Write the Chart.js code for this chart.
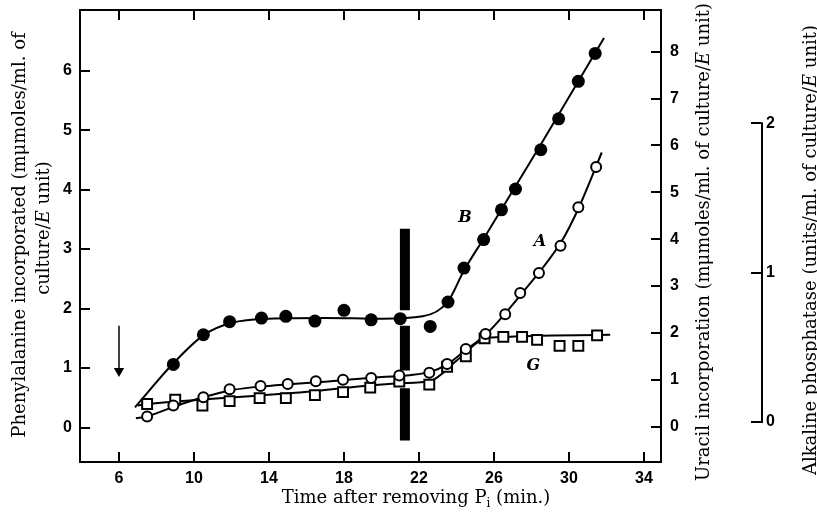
<!DOCTYPE html>
<html>
<head>
<meta charset="utf-8">
<title>Phenylalanine and uracil incorporation, alkaline phosphatase</title>
<script src="https://cdn.jsdelivr.net/npm/chart.js@4.4.0/dist/chart.umd.min.js"></script>
<style>
  html, body { margin: 0; padding: 0; background: #fff; }
  #wrap { width: 817px; height: 516px; }
</style>
</head>
<body>
<div id="wrap"><canvas id="chart" width="817" height="516"></canvas></div>
<script>
// --- data ---
// B: phenylalanine (filled circles, left axis)
const timeB   = [8.9, 10.5, 11.9, 13.6, 14.9, 16.45, 18.0, 19.45, 21.0, 22.6, 23.55, 24.4, 25.45, 26.4, 27.15, 28.5, 29.45, 30.5, 31.4];
const valuesB = [1.06, 1.56, 1.78, 1.84, 1.87, 1.79, 1.97, 1.81, 1.83, 1.70, 2.11, 2.68, 3.16, 3.66, 4.01, 4.67, 5.19, 5.82, 6.29];
// A: uracil (open circles, right axis)
const timeA   = [7.5, 8.9, 10.5, 11.9, 13.55, 15.0, 16.5, 17.95, 19.45, 20.95, 22.55, 23.5, 24.5, 25.55, 26.6, 27.4, 28.4, 29.55, 30.5, 31.45];
const valuesA = [0.22, 0.45, 0.63, 0.80, 0.87, 0.91, 0.97, 1.00, 1.04, 1.09, 1.15, 1.34, 1.66, 1.98, 2.40, 2.85, 3.28, 3.86, 4.68, 5.54];
// G: alkaline phosphatase (squares, outer right axis)
const timeG   = [7.5, 9.0, 10.45, 11.9, 13.5, 14.9, 16.45, 17.95, 19.4, 20.95, 22.55, 23.5, 24.5, 25.5, 26.5, 27.5, 28.3, 29.5, 30.5, 31.5];
const valuesG = [0.12, 0.15, 0.11, 0.14, 0.16, 0.16, 0.18, 0.20, 0.23, 0.27, 0.25, 0.37, 0.44, 0.56, 0.57, 0.57, 0.55, 0.51, 0.51, 0.58];

// hand-drawn fitted curves
const curveTimeB = [6.85, 8.9, 10.5, 12.0, 14.0, 17.0, 20.0, 22.2, 23.55, 24.4, 25.5, 28.5, 31.87];
const curveB     = [0.34, 1.08, 1.55, 1.76, 1.83, 1.84, 1.83, 1.87, 2.12, 2.64, 3.2, 4.76, 6.55];
const curveTimeA = [6.9, 7.5, 9.0, 10.5, 12.0, 14.0, 17.0, 20.0, 21.5, 22.6, 23.5, 24.5, 25.6, 27.5, 29.6, 30.5, 31.75];
const curveA     = [0.18, 0.22, 0.44, 0.63, 0.78, 0.87, 0.96, 1.06, 1.10, 1.17, 1.33, 1.64, 1.98, 2.85, 3.95, 4.65, 5.85];
const curveTimeG = [7.0, 7.5, 11.0, 15.65, 21.0, 22.6, 24.0, 25.35, 26.3, 32.2];
const curveG     = [0.11, 0.12, 0.155, 0.197, 0.26, 0.275, 0.41, 0.55, 0.568, 0.584];

// thick vertical marker (left-axis units), broken where it meets the points
const barTime = 21.25;
const barLevels = [3.34, 1.97, null, 1.71, 0.96, null, 0.66, -0.22];
// arrow at t = 6
const arrowTime = 6;
const arrowLevels = [1.71, 0.95];

// curve letters (left-axis units)
const letterText = ['B', 'A', 'G'];
const letterTime = [24.45, 28.45, 28.1];
const letterLevel = [3.53, 3.13, 1.03];

// ticks
const xTicks = [6, 10, 14, 18, 22, 26, 30, 34];
const pheTicks = [0, 1, 2, 3, 4, 5, 6];
const uracilTicks = [0, 1, 2, 3, 4, 5, 6, 7, 8];
const alkTicks = [0, 1, 2];

const pts = (xs, ys) => xs.map((x, i) => ({ x: x, y: ys[i] }));

const tickFont = { family: 'Liberation Sans', size: 16, weight: 'bold' };
const titleFont = '18px "DejaVu Serif"';
const italicFont = 'italic 18px "DejaVu Serif"';
const spine = { display: true, color: '#000', width: 2 };
const inwardGrid = { drawOnChartArea: false, drawTicks: true, tickLength: -10, color: '#000', lineWidth: 2 };
const setTicks = list => scale => { scale.ticks = list.map(v => ({ value: v })); };
// fixed box size, and no extra room asked for the end labels
const fixWidth = w => s => { s.width = w; s.paddingTop = 0; s.paddingBottom = 0; };

// axis titles as text runs so the E can be italic
const runs = (before, after) => [[before, titleFont], ['E', italicFont], [after, titleFont]];

// text that Chart.js cannot place itself: titles read bottom-up, x title, letters
const textPlugin = {
    id: 'textPlugin',
    afterDraw(chart) {
        const { ctx, scales } = chart;
        ctx.save();
        ctx.fillStyle = '#000';
        ctx.strokeStyle = '#000';

        // outer axis spine only runs from 0 to 2
        const a = scales.y3;
        ctx.lineWidth = 2;
        ctx.beginPath();
        ctx.moveTo(a.left + 1, a.getPixelForValue(alkTicks[0]) + 1);
        ctx.lineTo(a.left + 1, a.getPixelForValue(alkTicks[alkTicks.length - 1]) - 1);
        ctx.stroke();

        const rotated = (parts, x, y) => {
            ctx.save();
            ctx.translate(x, y);
            ctx.rotate(-Math.PI / 2);
            ctx.textAlign = 'left';
            ctx.textBaseline = 'middle';
            let total = 0;
            parts.forEach(p => { ctx.font = p[1]; total += ctx.measureText(p[0]).width; });
            let cx = -total / 2;
            parts.forEach(p => { ctx.font = p[1]; ctx.fillText(p[0], cx, 0); cx += ctx.measureText(p[0]).width; });
            ctx.restore();
        };
        rotated([['Phenylalanine incorporated (m\u03bcmoles/ml. of', titleFont]], 20, 235);
        rotated(runs('culture/', ' unit)'), 44, 228);
        rotated(runs('Uracil incorporation (m\u03bcmoles/ml. of culture/', ' unit)'), 704, 242);
        rotated(runs('Alkaline phosphatase (units/ml. of culture/', ' unit)'), 811, 250);

        // x title with a subscript i
        ctx.font = titleFont;
        ctx.textBaseline = 'alphabetic';
        ctx.textAlign = 'left';
        const partA = 'Time after removing P', partB = ' (min.)';
        const small = '12px "DejaVu Serif"';
        const wA = ctx.measureText(partA).width;
        const wB = ctx.measureText(partB).width;
        ctx.font = small;
        const wS = ctx.measureText('i').width;
        const x0 = 416 - (wA + wS + wB) / 2;
        const base = 503;
        ctx.font = titleFont;
        ctx.fillText(partA, x0, base);
        ctx.font = small;
        ctx.fillText('i', x0 + wA, base + 4);
        ctx.font = titleFont;
        ctx.fillText(partB, x0 + wA + wS, base);

        // curve letters
        ctx.font = 'italic bold 16px "DejaVu Serif"';
        ctx.textAlign = 'center';
        ctx.textBaseline = 'middle';
        letterText.forEach((t, i) => {
            ctx.fillText(t, scales.x.getPixelForValue(letterTime[i]), scales.y.getPixelForValue(letterLevel[i]));
        });
        ctx.restore();
    }
};

new Chart(document.getElementById('chart'), {
    type: 'scatter',
    data: {
        datasets: [
            { label: 'B', data: pts(timeB, valuesB), yAxisID: 'y', order: 0,
              pointStyle: 'circle', pointRadius: 6.5, backgroundColor: '#000', borderColor: '#000', borderWidth: 0 },
            { label: 'A', data: pts(timeA, valuesA), yAxisID: 'y2', order: 0,
              pointStyle: 'circle', pointRadius: 5, backgroundColor: '#fff', borderColor: '#000', borderWidth: 2 },
            { label: 'G', data: pts(timeG, valuesG), yAxisID: 'y3', order: 0,
              pointStyle: 'rect', pointRadius: 7, backgroundColor: '#fff', borderColor: '#000', borderWidth: 2 },
            { label: 'B curve', data: pts(curveTimeB, curveB), yAxisID: 'y', order: 1,
              showLine: true, pointRadius: 0, borderColor: '#000', borderWidth: 2, cubicInterpolationMode: 'monotone' },
            { label: 'A curve', data: pts(curveTimeA, curveA), yAxisID: 'y2', order: 1,
              showLine: true, pointRadius: 0, borderColor: '#000', borderWidth: 2, cubicInterpolationMode: 'monotone' },
            { label: 'G curve', data: pts(curveTimeG, curveG), yAxisID: 'y3', order: 1,
              showLine: true, pointRadius: 0, borderColor: '#000', borderWidth: 2, cubicInterpolationMode: 'monotone' },
            { label: 'marker', data: barLevels.map(v => ({ x: barTime, y: v })), yAxisID: 'y', order: 2,
              showLine: true, spanGaps: false, pointRadius: 0, borderColor: '#000', borderWidth: 10, borderCapStyle: 'butt' },
            { label: 'arrow', data: arrowLevels.map(v => ({ x: arrowTime, y: v })), yAxisID: 'y', order: 2,
              showLine: true, borderColor: '#000', borderWidth: 1.5,
              pointRadius: [0, 6], pointStyle: 'triangle', rotation: 180, backgroundColor: '#000', pointBorderWidth: 0 }
        ]
    },
    options: {
        responsive: false,
        animation: false,
        devicePixelRatio: 1,
        layout: { padding: 0 },
        plugins: { legend: { display: false }, tooltip: { enabled: false } },
        scales: {
            x: {
                type: 'linear', position: 'bottom', min: 3.92, max: 34.91,
                afterBuildTicks: setTicks(xTicks),
                afterFit: s => { s.height = 54; },
                grid: inwardGrid, border: spine,
                ticks: { font: tickFont, color: '#000', padding: 17, maxRotation: 0, autoSkip: false }
            },
            xTop: {
                axis: 'x', type: 'linear', position: 'top', min: 3.92, max: 34.91,
                afterBuildTicks: setTicks(xTicks),
                afterFit: s => { s.height = 10; },
                grid: inwardGrid, border: spine,
                ticks: { display: false }
            },
            y: {
                type: 'linear', position: 'left', min: -0.58, max: 7.02,
                afterBuildTicks: setTicks(pheTicks),
                afterFit: fixWidth(80),
                grid: inwardGrid, border: spine,
                ticks: { font: tickFont, color: '#000', padding: 18 }
            },
            y2: {
                type: 'linear', position: 'right', weight: 1, min: -0.753, max: 8.89,
                afterBuildTicks: setTicks(uracilTicks),
                afterFit: fixWidth(100),
                grid: inwardGrid, border: spine,
                ticks: { font: tickFont, color: '#000', padding: 19 }
            },
            y3: {
                type: 'linear', position: 'right', weight: 2, min: -0.268, max: 2.759,
                afterBuildTicks: setTicks(alkTicks),
                afterFit: fixWidth(56),
                grid: inwardGrid, border: { display: false },
                ticks: { font: tickFont, color: '#000', padding: 15 }
            }
        }
    },
    plugins: [textPlugin]
});
</script>
</body>
</html>
